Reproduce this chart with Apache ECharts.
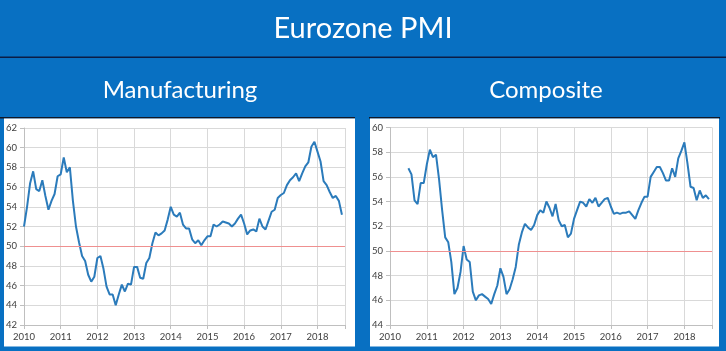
<!DOCTYPE html>
<html>
<head>
<meta charset="utf-8">
<script src="https://cdn.jsdelivr.net/npm/echarts@6/dist/echarts.min.js"></script>
<style>
  html, body { margin: 0; padding: 0; background: #0870c2; }
  #main { width: 726px; height: 351px; }
</style>
</head>
<body>
<div id="main"></div>
<script>
// year tick labels on both x axes
var years = [2010, 2011, 2012, 2013, 2014, 2015, 2016, 2017, 2018];

// Eurozone manufacturing PMI, monthly Jan 2010 .. Sep 2018
var manufacturing = [
  52.0, 54.0, 56.4, 57.6, 55.8, 55.6, 56.7, 55.1, 53.7, 54.6, 55.3, 57.1,
  57.3, 59.0, 57.5, 58.0, 54.6, 52.0, 50.4, 49.0, 48.5, 47.1, 46.4, 46.9,
  48.8, 49.0, 47.7, 45.9, 45.1, 45.1, 44.0, 45.1, 46.1, 45.4, 46.2, 46.1,
  47.9, 47.9, 46.8, 46.7, 48.3, 48.8, 50.3, 51.4, 51.1, 51.3, 51.6, 52.7,
  54.0, 53.2, 53.0, 53.4, 52.2, 51.8, 51.8, 50.7, 50.3, 50.6, 50.1, 50.6,
  51.0, 51.0, 52.2, 52.0, 52.2, 52.5, 52.4, 52.3, 52.0, 52.3, 52.8, 53.2,
  52.3, 51.2, 51.6, 51.7, 51.5, 52.8, 52.0, 51.7, 52.6, 53.5, 53.7, 54.9,
  55.2, 55.4, 56.2, 56.7, 57.0, 57.4, 56.6, 57.4, 58.1, 58.5, 60.1, 60.6,
  59.6, 58.6, 56.6, 56.2, 55.5, 54.9, 55.1, 54.6, 53.2
];

// Eurozone composite PMI, monthly Jul 2010 .. Sep 2018
var composite = [
  56.7, 56.2, 54.1, 53.8, 55.5, 55.5,
  57.0, 58.2, 57.6, 57.8, 55.8, 53.3, 51.1, 50.7, 49.1, 46.5, 47.0, 48.3,
  50.4, 49.3, 49.1, 46.7, 46.0, 46.4, 46.5, 46.3, 46.1, 45.7, 46.5, 47.2,
  48.6, 47.9, 46.5, 46.9, 47.7, 48.7, 50.5, 51.5, 52.2, 51.9, 51.7, 52.1,
  52.9, 53.3, 53.1, 54.0, 53.5, 52.8, 53.8, 52.5, 52.0, 52.1, 51.1, 51.4,
  52.6, 53.3, 54.0, 53.9, 53.6, 54.2, 53.9, 54.3, 53.6, 53.9, 54.2, 54.3,
  53.6, 53.0, 53.1, 53.0, 53.1, 53.1, 53.2, 52.9, 52.6, 53.3, 53.9, 54.4,
  54.4, 56.0, 56.4, 56.8, 56.8, 56.3, 55.7, 55.7, 56.7, 56.0, 57.5, 58.1,
  58.8, 57.1, 55.2, 55.1, 54.1, 54.9, 54.3, 54.5, 54.2
];
var compositeStartMonth = 6; // July 2010

var manufTicks = [42, 44, 46, 48, 50, 52, 54, 56, 58, 60, 62];
var compTicks = [44, 46, 48, 50, 52, 54, 56, 58, 60];
var threshold = 50;

function toPoints(vals, startMonth) {
  return vals.map(function (v, i) {
    return [years[0] + (startMonth + i) / 12, v];
  });
}

var blue = '#0870c2';
var lineBlue = '#2b7bbb';
var font = 'Lato';

function xAxisFor(gi) {
  return {
    type: 'value',
    gridIndex: gi,
    min: years[0],
    max: 2018.75,
    interval: 1,
    axisLine: { show: true, lineStyle: { color: '#bfbfbf', width: 1 } },
    axisTick: { show: true, length: 4, lineStyle: { color: '#bfbfbf' } },
    axisLabel: {
      color: '#404040', fontFamily: font, fontSize: 9.5, margin: 7,
      formatter: function (v) { return years.indexOf(v) >= 0 ? String(v) : ''; }
    },
    splitLine: { show: true, lineStyle: { color: '#d9d9d9', width: 1 } }
  };
}

function yAxisFor(gi, ticks) {
  return {
    type: 'value',
    gridIndex: gi,
    min: ticks[0],
    max: ticks[ticks.length - 1],
    interval: ticks[1] - ticks[0],
    axisLine: { show: true, lineStyle: { color: '#bfbfbf', width: 1 } },
    axisTick: { show: true, length: 4, lineStyle: { color: '#bfbfbf' } },
    axisLabel: { color: '#404040', fontFamily: font, fontSize: 9.5, margin: 7 },
    splitLine: { show: true, lineStyle: { color: '#d9d9d9', width: 1 } }
  };
}

function lineSeries(gi, data) {
  return {
    type: 'line',
    xAxisIndex: gi,
    yAxisIndex: gi,
    data: data,
    showSymbol: false,
    silent: true,
    lineStyle: { color: lineBlue, width: 2 },
    markLine: {
      silent: true,
      symbol: 'none',
      label: { show: false },
      lineStyle: { color: '#ef9090', width: 1, type: 'solid' },
      data: [{ yAxis: threshold }]
    }
  };
}

var chart = echarts.init(document.getElementById('main'));
chart.setOption({
  backgroundColor: blue,
  animation: false,
  graphic: [
    { type: 'rect', z: -10, shape: { x: 0, y: 56.5, width: 726, height: 1.5 }, style: { fill: '#0b1d45' } },
    { type: 'rect', z: -10, shape: { x: 0, y: 117, width: 355, height: 1.5 }, style: { fill: '#111827' } },
    { type: 'rect', z: -10, shape: { x: 4, y: 118.5, width: 351, height: 228 }, style: { fill: '#ffffff' } },
    { type: 'rect', z: -10, shape: { x: 369, y: 117, width: 351, height: 1.5 }, style: { fill: '#111827' } },
    { type: 'rect', z: -10, shape: { x: 370, y: 118.5, width: 349, height: 228 }, style: { fill: '#ffffff' } },
    { type: 'text', z: 10, x: 363, y: 29,
      style: { text: 'Eurozone PMI', fill: '#ffffff', fontFamily: font, fontSize: 29,
               align: 'center', verticalAlign: 'middle', textAlign: 'center', textVerticalAlign: 'middle' } },
    { type: 'text', z: 10, x: 180, y: 90,
      style: { text: 'Manufacturing', fill: '#ffffff', fontFamily: font, fontSize: 24,
               align: 'center', verticalAlign: 'middle', textAlign: 'center', textVerticalAlign: 'middle' } },
    { type: 'text', z: 10, x: 546, y: 90,
      style: { text: 'Composite', fill: '#ffffff', fontFamily: font, fontSize: 24,
               align: 'center', verticalAlign: 'middle', textAlign: 'center', textVerticalAlign: 'middle' } }
  ],
  grid: [
    { left: 24, top: 128, width: 321, height: 197 },
    { left: 390, top: 127.5, width: 322, height: 197.5 }
  ],
  xAxis: [xAxisFor(0), xAxisFor(1)],
  yAxis: [yAxisFor(0, manufTicks), yAxisFor(1, compTicks)],
  series: [
    lineSeries(0, toPoints(manufacturing, 0)),
    lineSeries(1, toPoints(composite, compositeStartMonth))
  ]
});
</script>
</body>
</html>
